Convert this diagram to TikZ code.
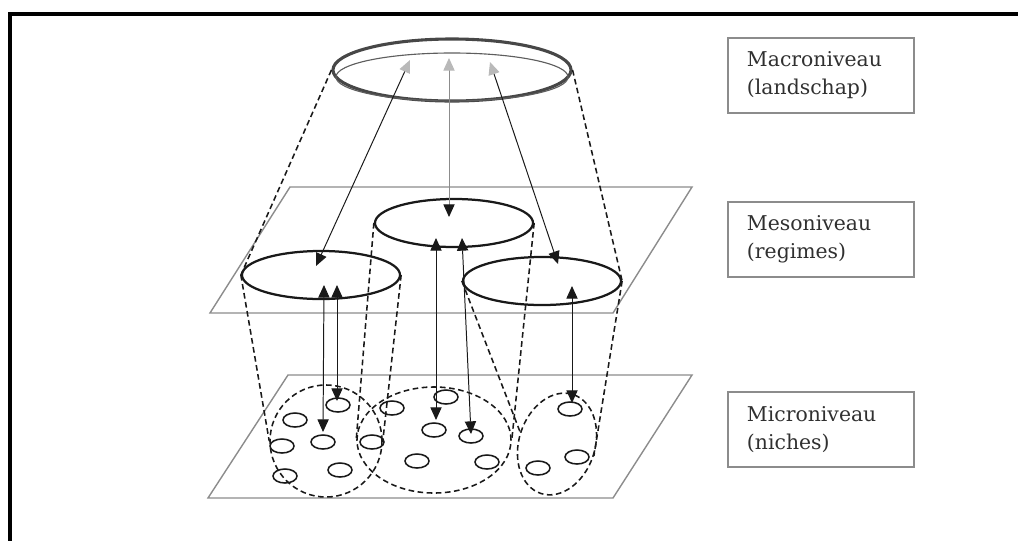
\documentclass[tikz,border=0pt]{standalone}
\usepackage{fontspec}
\setmainfont{DejaVu Serif}
\usepackage{xcolor}
\usetikzlibrary{arrows.meta,shapes.geometric}
\definecolor{lvGray}{RGB}{140,140,140}
\definecolor{lvDark}{RGB}{25,25,25}
\definecolor{lvTip}{RGB}{185,185,185}

\begin{document}
\begin{tikzpicture}[
  x=0.025cm, y=-0.025cm,
  font=\fontsize{14.5}{20}\selectfont,
  lvl/.style={draw=lvGray, line width=1.2pt, text=lvDark!90, minimum width=4.65cm, minimum height=1.875cm, text width=3.7cm, align=left, inner xsep=0.475cm},
  plane/.style={draw=lvGray, line width=1pt},
  ring/.style={ellipse, draw=lvDark, line width=1.6pt, minimum width=3.95cm, minimum height=1.2cm, inner sep=0pt},
  zone/.style={ellipse, draw=lvDark, line width=1.1pt, dash pattern=on 4pt off 2.5pt, inner sep=0pt},
  cell/.style={ellipse, draw=lvDark, line width=1.1pt, minimum width=0.6cm, minimum height=0.35cm, inner sep=0pt},
  proj/.style={draw=lvDark, line width=1.1pt, dash pattern=on 4pt off 2.5pt},
  ar/.style={draw=lvDark, line width=0.7pt, {Triangle[length=9pt,width=8pt]}-{Triangle[length=9pt,width=8pt]}},
  arm/.style={draw=lvDark, line width=0.7pt, {Triangle[length=9pt,width=8pt,color=lvTip]}-{Triangle[length=9pt,width=8pt,color=lvDark]}}
]
\useasboundingbox (0,0) rectangle (1018,541);
\draw[line width=2.8pt] (1018,14) -| (10,541);

% planes
\draw[plane] (290,187) -- (692,187) -- (613,313) -- (210,313) -- cycle;
\draw[plane] (288,375) -- (692,375) -- (613,498) -- (208,498) -- cycle;

% macro level
\node[ellipse, draw=lvDark!80, line width=2.2pt, minimum width=5.95cm, minimum height=1.55cm, inner sep=0pt] (macro) at (452,70) {};
\node[ellipse, draw=lvDark!70, line width=0.8pt, minimum width=5.8cm, minimum height=1.2cm, inner sep=0pt] (macroIn) at (452,77) {};

% meso level
\node[ring] (mesoL) at (321,275) {};
\node[ring] (mesoM) at (454,223) {};
\node[ring] (mesoR) at (542,281) {};

% micro level
\node[zone, minimum width=2.8cm, minimum height=2.8cm] (zoneL) at (326,441) {};
\node[zone, minimum width=3.85cm, minimum height=2.65cm] (zoneM) at (434,440) {};
\node[zone, minimum width=1.9cm, minimum height=2.6cm, rotate=-18] (zoneR) at (557,444) {};

\foreach \i/\x/\y in {1/338/405, 2/295/420, 3/323/442, 4/282/446, 5/285/476, 6/340/470,
                      7/392/408, 8/446/397, 9/434/430, 10/372/442, 11/471/436, 12/417/461, 13/487/462,
                      14/570/409, 15/538/468, 16/577/457}
  \node[cell] (n\i) at (\x,\y) {};

% projections
\foreach \x/\y in {macro/mesoL, mesoL/zoneL, mesoM/zoneM, mesoR/zoneR}
  \draw[proj] (\x.west) -- (\y.west);
\foreach \x/\y in {macro/mesoR, mesoL/zoneL, mesoM/zoneM, mesoR/zoneR}
  \draw[proj] (\x.east) -- (\y.east);

% arrows
\coordinate (t1) at (410,60);
\coordinate (t2) at (449,58);
\coordinate (t3) at (490,62);
\coordinate (h1) at (316,266);
\coordinate (h2) at (449,217);
\coordinate (h3) at (558,264);
\draw[arm] (t1) -- (h1);
\draw[arm, draw=lvGray] (t2) -- (h2);
\draw[arm] (t3) -- (h3);

\coordinate (u1) at (324,285);
\coordinate (u2) at (337,285);
\coordinate (u3) at (436,238);
\coordinate (u4) at (462,238);
\coordinate (u5) at (572,286);
\coordinate (d1) at (323,432);
\coordinate (d2) at (337,401);
\coordinate (d3) at (436,420);
\coordinate (d4) at (471,434);
\coordinate (d5) at (572,403);
\foreach \a/\b in {u1/d1, u2/d2, u3/d3, u4/d4, u5/d5} \draw[ar] (\a) -- (\b);

% labels
\node[lvl] (macroLbl) at (821,75.5) {Macroniveau\\(landschap)};
\node[lvl] (mesoLbl) at (821,239.5) {Mesoniveau\\(regimes)};
\node[lvl] (microLbl) at (821,429.5) {Microniveau\\(niches)};
\end{tikzpicture}
\end{document}
